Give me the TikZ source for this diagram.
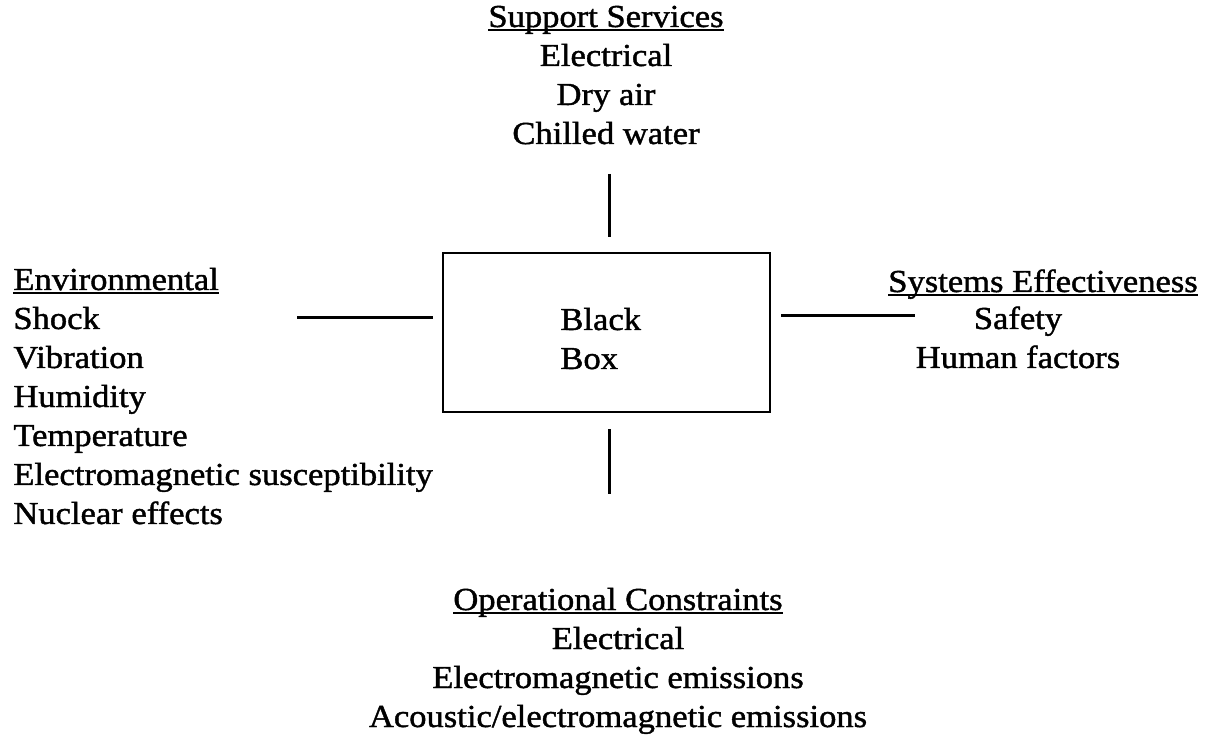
\documentclass[tikz,border=0pt]{standalone}
\usepackage{fontspec}
\setmainfont{Liberation Serif}[FakeStretch=1.08,FakeBold=1.3]
\usetikzlibrary{positioning}

\newsavebox\headbox
\newcommand{\headline}[1]{\sbox\headbox{#1}\rlap{\rule[-2.2pt]{\wd\headbox}{1.1pt}}\usebox\headbox}

\begin{document}
\begin{tikzpicture}[x=0.5pt,y=-0.5pt,
    labeltext/.style={inner sep=0pt,font=\fontsize{16}{19.5}\selectfont},
    link/.style={line width=1.5pt},
    blackbox/.style={draw,line width=1.4pt,
      minimum width=163.5pt,minimum height=79.5pt,inner sep=0pt}]
  \useasboundingbox (0,0) rectangle (1214,747);

  \node[blackbox] (box) at (606.5,332.5) {};
  \node[labeltext,align=left,anchor=base west] (boxlabel) at (560,369) {Black\\Box};

  % the four groups of requirements (base = last line)
  \node[labeltext,align=center,anchor=base] (support) at (606,144)
    {\headline{Support Services}\\Electrical\\Dry air\\Chilled water};
  \node[labeltext,align=left,anchor=base west] (environ) at (13,524)
    {\headline{Environmental}\\Shock\\Vibration\\Humidity\\Temperature\\
     Electromagnetic susceptibility\\Nuclear effects};
  \node[labeltext,anchor=base] (systitle) at (1043,292) {\headline{Systems Effectiveness}};
  \node[labeltext,align=center,anchor=base] (syslist) at (1018,368) {Safety\\Human factors};
  \node[labeltext,align=center,anchor=base] (operation) at (618,727)
    {\headline{Operational Constraints}\\Electrical\\Electromagnetic emissions\\
     Acoustic/electromagnetic emissions};

  % loose ends of the connecting lines
  \coordinate (supend) at (609,174);
  \coordinate (envend) at (297,318);
  \coordinate (sysend) at (915,316);
  \coordinate (opend) at (609,494);

  \draw[link,shorten >=7.5pt] (supend) -- (supend |- box.north);
  \draw[link,shorten >=4.5pt] (envend) -- (envend -| box.west);
  \draw[link,shorten <=5pt] (sysend -| box.east) -- (sysend);
  \draw[link,shorten <=8pt] (opend |- box.south) -- (opend);
\end{tikzpicture}
\end{document}
